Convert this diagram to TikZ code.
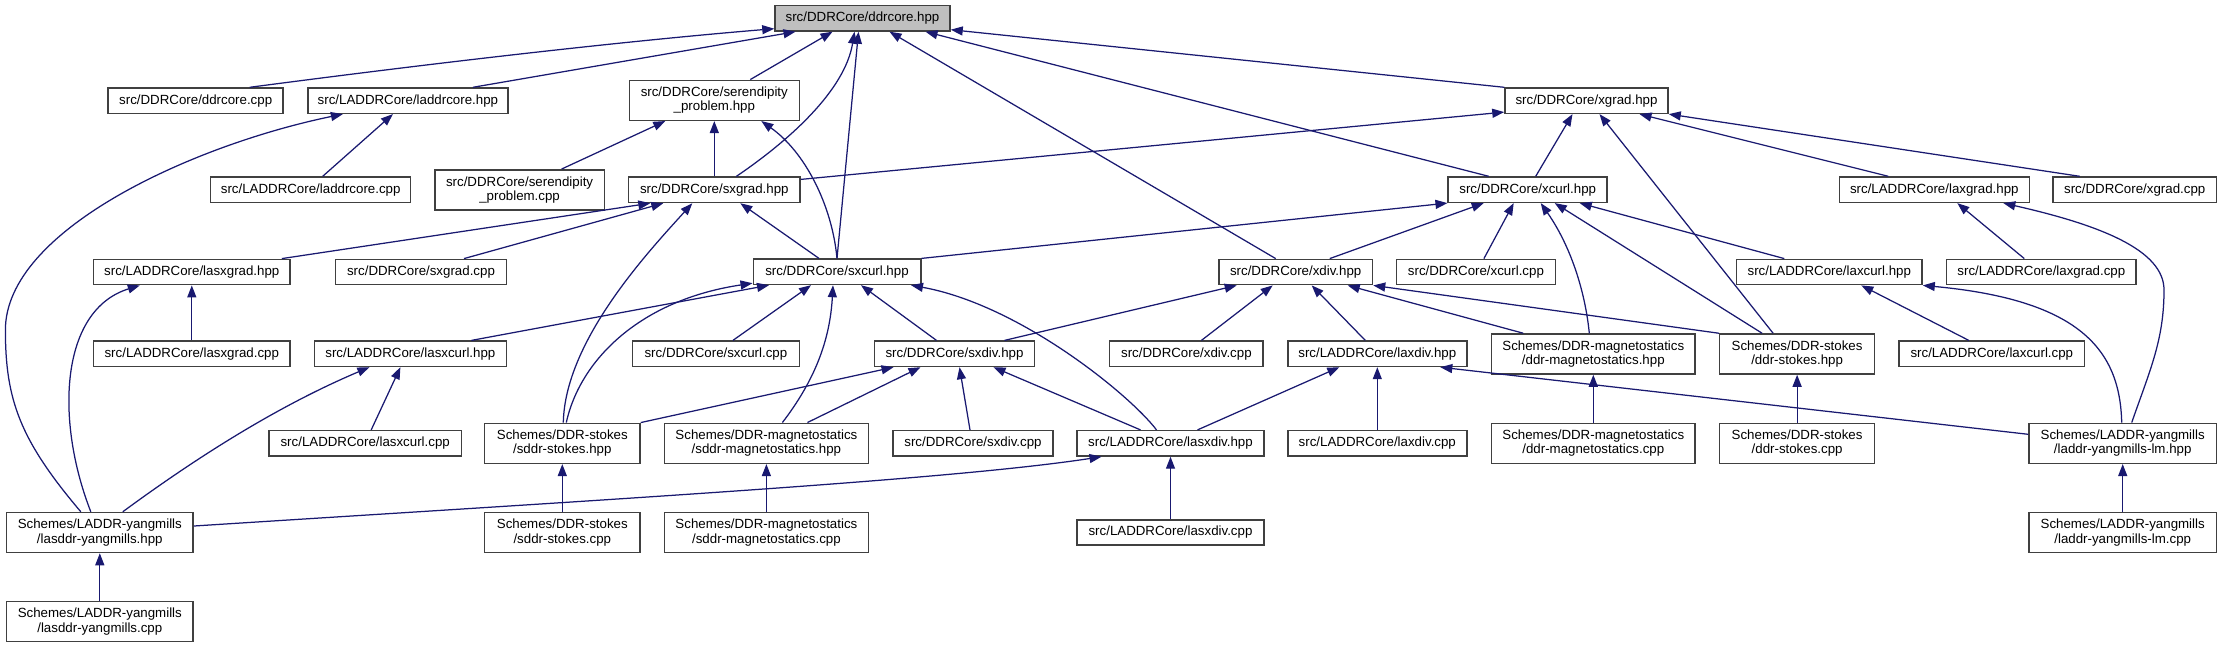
\documentclass[tikz,border=0pt]{standalone}
\usepackage{fontspec}
\setmainfont{Liberation Sans}
\usetikzlibrary{arrows.meta}
\definecolor{eblue}{HTML}{191970}
\definecolor{bord}{HTML}{404040}
\definecolor{rootfill}{HTML}{BFBFBF}
\begin{document}
\begin{tikzpicture}[x=1pt,y=-1pt,
  box/.style={draw=bord,line width=1.5pt,fill=white,inner sep=0pt,minimum height=25.3pt,align=center,
    font=\fontsize{13.3}{14.4}\selectfont},
  box2/.style={box,minimum height=40pt},
  dep/.style={draw=eblue,line width=1.25pt,-{Triangle[length=12pt,width=9pt]}}]
\useasboundingbox (0,0) rectangle (2221,648);
% row 0
\node[box,fill=rootfill,minimum width=175] (dh) at (862.5,18.3) {src/DDRCore/ddrcore.hpp};
% row 1
\node[box,minimum width=175] (dcpp) at (195.7,100.7) {src/DDRCore/ddrcore.cpp};
\node[box,minimum width=200] (lhpp) at (407.9,100.7) {src/LADDRCore/laddrcore.hpp};
\node[box2,minimum width=170] (sph) at (714.3,100.3) {src/DDRCore/serendipity\\\_problem.hpp};
\node[box,minimum width=163] (xgh) at (1586.5,100.7) {src/DDRCore/xgrad.hpp};
% row 2
\node[box,minimum width=200] (lcpp) at (310.7,189.7) {src/LADDRCore/laddrcore.cpp};
\node[box2,minimum width=169.3] (spc) at (519.6,189.8) {src/DDRCore/serendipity\\\_problem.cpp};
\node[box,minimum width=171.4] (sgh) at (714.3,189.8) {src/DDRCore/sxgrad.hpp};
\node[box,minimum width=159] (xch) at (1527.7,189.7) {src/DDRCore/xcurl.hpp};
\node[box,minimum width=190.1] (lxgh) at (1934.3,189.7) {src/LADDRCore/laxgrad.hpp};
\node[box,minimum width=163.3] (xgc) at (2134.7,189.7) {src/DDRCore/xgrad.cpp};
% row 3
\node[box,minimum width=196.4] (lsgh) at (191.8,272) {src/LADDRCore/lasxgrad.hpp};
\node[box,minimum width=170.7] (sgc) at (421,272) {src/DDRCore/sxgrad.cpp};
\node[box,minimum width=167.5] (sch) at (837,271.8) {src/DDRCore/sxcurl.hpp};
\node[box,minimum width=153.6] (xdh) at (1295.7,272) {src/DDRCore/xdiv.hpp};
\node[box,minimum width=159] (xcc) at (1475.9,272) {src/DDRCore/xcurl.cpp};
\node[box,minimum width=185.5] (lxch) at (1829.3,272) {src/LADDRCore/laxcurl.hpp};
\node[box,minimum width=189.3] (lxgc) at (2041.3,272) {src/LADDRCore/laxgrad.cpp};
% row 4
\node[box,minimum width=196.4] (lsgc) at (191.8,353.8) {src/LADDRCore/lasxgrad.cpp};
\node[box,minimum width=192.1] (lsch) at (410.4,353.8) {src/LADDRCore/lasxcurl.hpp};
\node[box,minimum width=166.8] (scc) at (715.9,353.8) {src/DDRCore/sxcurl.cpp};
\node[box,minimum width=160.3] (sdh) at (954.5,353.8) {src/DDRCore/sxdiv.hpp};
\node[box,minimum width=153.6] (xdc) at (1186.4,353.8) {src/DDRCore/xdiv.cpp};
\node[box,minimum width=178.9] (lxdh) at (1377.3,353.8) {src/LADDRCore/laxdiv.hpp};
\node[box2,minimum width=203.7] (dmh) at (1593.3,354) {Schemes/DDR-magnetostatics\\/ddr-magnetostatics.hpp};
\node[box2,minimum width=154.8] (dsh) at (1797.1,354) {Schemes/DDR-stokes\\/ddr-stokes.hpp};
\node[box,minimum width=185.5] (lxcc) at (1991.8,353.8) {src/LADDRCore/laxcurl.cpp};
% row 5
\node[box,minimum width=192.5] (lscc) at (365.2,443.3) {src/LADDRCore/lasxcurl.cpp};
\node[box2,minimum width=155.4] (ssh) at (562.3,443.3) {Schemes/DDR-stokes\\/sddr-stokes.hpp};
\node[box2,minimum width=204.3] (smh) at (766.4,443.3) {Schemes/DDR-magnetostatics\\/sddr-magnetostatics.hpp};
\node[box,minimum width=160.3] (sdc) at (973,443.3) {src/DDRCore/sxdiv.cpp};
\node[box,minimum width=186.8] (lsdh) at (1170.5,443.3) {src/LADDRCore/lasxdiv.hpp};
\node[box,minimum width=178.9] (lxdc) at (1377.3,443.3) {src/LADDRCore/laxdiv.cpp};
\node[box2,minimum width=203.7] (dmc) at (1593.3,443.3) {Schemes/DDR-magnetostatics\\/ddr-magnetostatics.cpp};
\node[box2,minimum width=154.8] (dsc) at (1797.1,443.3) {Schemes/DDR-stokes\\/ddr-stokes.cpp};
\node[box2,minimum width=187.4] (lmh) at (2122.7,443.3) {Schemes/LADDR-yangmills\\/laddr-yangmills-lm.hpp};
% row 6
\node[box2,minimum width=186.8] (lyh) at (99.8,532.5) {Schemes/LADDR-yangmills\\/lasddr-yangmills.hpp};
\node[box2,minimum width=155.4] (ssc) at (562.3,532.5) {Schemes/DDR-stokes\\/sddr-stokes.cpp};
\node[box2,minimum width=204.3] (smc) at (766.4,532.5) {Schemes/DDR-magnetostatics\\/sddr-magnetostatics.cpp};
\node[box,minimum width=186.8] (lsdc) at (1170.5,532.5) {src/LADDRCore/lasxdiv.cpp};
\node[box2,minimum width=187.4] (lmc) at (2122.7,532.5) {Schemes/LADDR-yangmills\\/laddr-yangmills-lm.cpp};
% row 7
\node[box2,minimum width=186.8] (lyc) at (99.8,621.7) {Schemes/LADDR-yangmills\\/lasddr-yangmills.cpp};

% ---- edges into ddrcore.hpp
\draw[dep] ([xshift=54]dcpp.north) .. controls (480,57) and (650,39) .. ([yshift=3]dh.south west);
\draw[dep] ([xshift=65]lhpp.north) -- ([xshift=-67]dh.south);
\draw[dep] ([xshift=36]sph.north) -- ([xshift=-30]dh.south);
\draw[dep] ([xshift=22]sgh.north) .. controls (790,140) and (845,90) .. ([xshift=-8]dh.south);
\draw[dep] (sch.north) -- ([xshift=-4]dh.south);
\draw[dep] ([xshift=-20]xdh.north) -- ([xshift=27]dh.south);
\draw[dep] ([xshift=-39]xch.north) -- ([xshift=63]dh.south);
\draw[dep] (xgh.north west) -- ([yshift=2]dh.south east);
% ---- laddrcore.hpp
\draw[dep] ([xshift=12]lcpp.north) -- ([xshift=-15]lhpp.south);
\draw[dep] ([xshift=-19]lyh.north) .. controls (20,440) and (5.4,400) .. (5.4,330)
  .. controls (5.4,230) and (193,145) .. ([xshift=-65]lhpp.south);
% ---- serendipity_problem.hpp
\draw[dep] ([xshift=42]spc.north) -- ([xshift=-49]sph.south);
\draw[dep] (sgh.north) -- (sph.south);
\draw[dep] (sch.north) .. controls (832,205) and (805,152) .. ([xshift=47]sph.south);
% ---- sxgrad.hpp
\draw[dep] ([xshift=90]lsgh.north) -- ([xshift=-64]sgh.south);
\draw[dep] ([xshift=43]sgc.north) -- ([xshift=-51]sgh.south);
\draw[dep] ([xshift=1]ssh.north) .. controls (565,340) and (650,250) .. ([xshift=-22]sgh.south);
\draw[dep] ([xshift=-18]sch.north) -- ([xshift=26]sgh.south);
\draw[dep] ([yshift=-3]sgh.north east) -- ([yshift=2]xgh.south west);
% ---- lasxgrad.hpp
\draw[dep] (lsgc.north) -- (lsgh.south);
\draw[dep] ([xshift=-9]lyh.north) .. controls (55,420) and (60,310) .. ([xshift=-52]lsgh.south);
% ---- sxcurl.hpp
\draw[dep] ([xshift=61]lsch.north) -- ([xshift=-68]sch.south);
\draw[dep] ([xshift=4]ssh.north) .. controls (580,360) and (640,300) .. ([yshift=2]sch.south west);
\draw[dep] ([xshift=17]scc.north) -- ([xshift=-26]sch.south);
\draw[dep] ([xshift=16]smh.north) .. controls (815,380) and (830,340) .. ([xshift=-4]sch.south);
\draw[dep] ([xshift=-18]sdh.north) -- ([xshift=24]sch.south);
\draw[dep] ([xshift=-14]lsdh.north) .. controls (1130,395) and (1020,305) .. ([xshift=74]sch.south);
\draw[dep] (sch.north east) -- (xch.south west);
% ---- lasxcurl.hpp
\draw[dep] ([xshift=6]lscc.north) -- ([xshift=-10]lsch.south);
\draw[dep] ([xshift=23]lyh.north) .. controls (200,455) and (280,405) .. ([xshift=-41]lsch.south);
% ---- verticals
\draw[dep] (ssc.north) -- (ssh.south);
\draw[dep] (smc.north) -- (smh.south);
\draw[dep] (lsdc.north) -- (lsdh.south);
\draw[dep] (lxdc.north) -- (lxdh.south);
\draw[dep] (dmc.north) -- (dmh.south);
\draw[dep] (dsc.north) -- (dsh.south);
\draw[dep] (lmc.north) -- (lmh.south);
\draw[dep] (lyc.north) -- (lyh.south);
% ---- sxdiv.hpp
\draw[dep] (ssh.north east) -- ([xshift=-61]sdh.south);
\draw[dep] ([xshift=41]smh.north) -- ([xshift=-34]sdh.south);
\draw[dep] ([xshift=-3]sdc.north) -- ([xshift=5]sdh.south);
\draw[dep] ([xshift=-30]lsdh.north) -- ([xshift=39]sdh.south);
% ---- lasxdiv / laxdiv
\draw[dep] ([xshift=27]lsdh.north) -- ([xshift=-38]lxdh.south);
\draw[dep] ([yshift=9]lmh.west) -- ([xshift=63]lxdh.south);
\draw[dep] ([yshift=6.5]lyh.east) .. controls (600,500) and (950,480) .. ([xshift=-69]lsdh.south);
% ---- xdiv.hpp
\draw[dep] ([xshift=50]sdh.north) -- ([xshift=-59]xdh.south);
\draw[dep] ([xshift=15]xdc.north) -- ([xshift=-23]xdh.south);
\draw[dep] ([xshift=-12]lxdh.north) -- ([xshift=16]xdh.south);
\draw[dep] ([xshift=-70]dmh.north) -- ([xshift=52]xdh.south);
\draw[dep] (dsh.north west) -- (xdh.south east);
% ---- xcurl.hpp
\draw[dep] ([xshift=34]xdh.north) -- ([xshift=-44]xch.south);
\draw[dep] ([xshift=8]xcc.north) -- ([xshift=-14]xch.south);
\draw[dep] ([xshift=-4]dmh.north) .. controls (1585,290) and (1570,245) .. ([xshift=13]xch.south);
\draw[dep] ([xshift=-35]dsh.north) -- ([xshift=27]xch.south);
\draw[dep] ([xshift=-45]lxch.north) -- ([xshift=52]xch.south);
% ---- xgrad.hpp
\draw[dep] ([xshift=-24]dsh.north) -- ([xshift=13]xgh.south);
\draw[dep] ([xshift=8]xch.north) -- ([xshift=-14]xgh.south);
\draw[dep] ([xshift=-46]lxgh.north) -- ([xshift=53]xgh.south);
\draw[dep] ([xshift=-55]xgc.north) -- (xgh.south east);
% ---- laxgrad / laxcurl
\draw[dep] ([xshift=-17]lxgc.north) -- ([xshift=23]lxgh.south);
\draw[dep] ([xshift=9]lmh.north) .. controls (2150,370) and (2164,340) .. (2164,290)
  .. controls (2164,250) and (2100,225) .. ([xshift=69]lxgh.south);
\draw[dep] ([xshift=-1]lmh.north) .. controls (2120,350) and (2080,300) .. (lxch.south east);
\draw[dep] ([xshift=-23]lxcc.north) -- ([xshift=32]lxch.south);
\end{tikzpicture}
\end{document}
